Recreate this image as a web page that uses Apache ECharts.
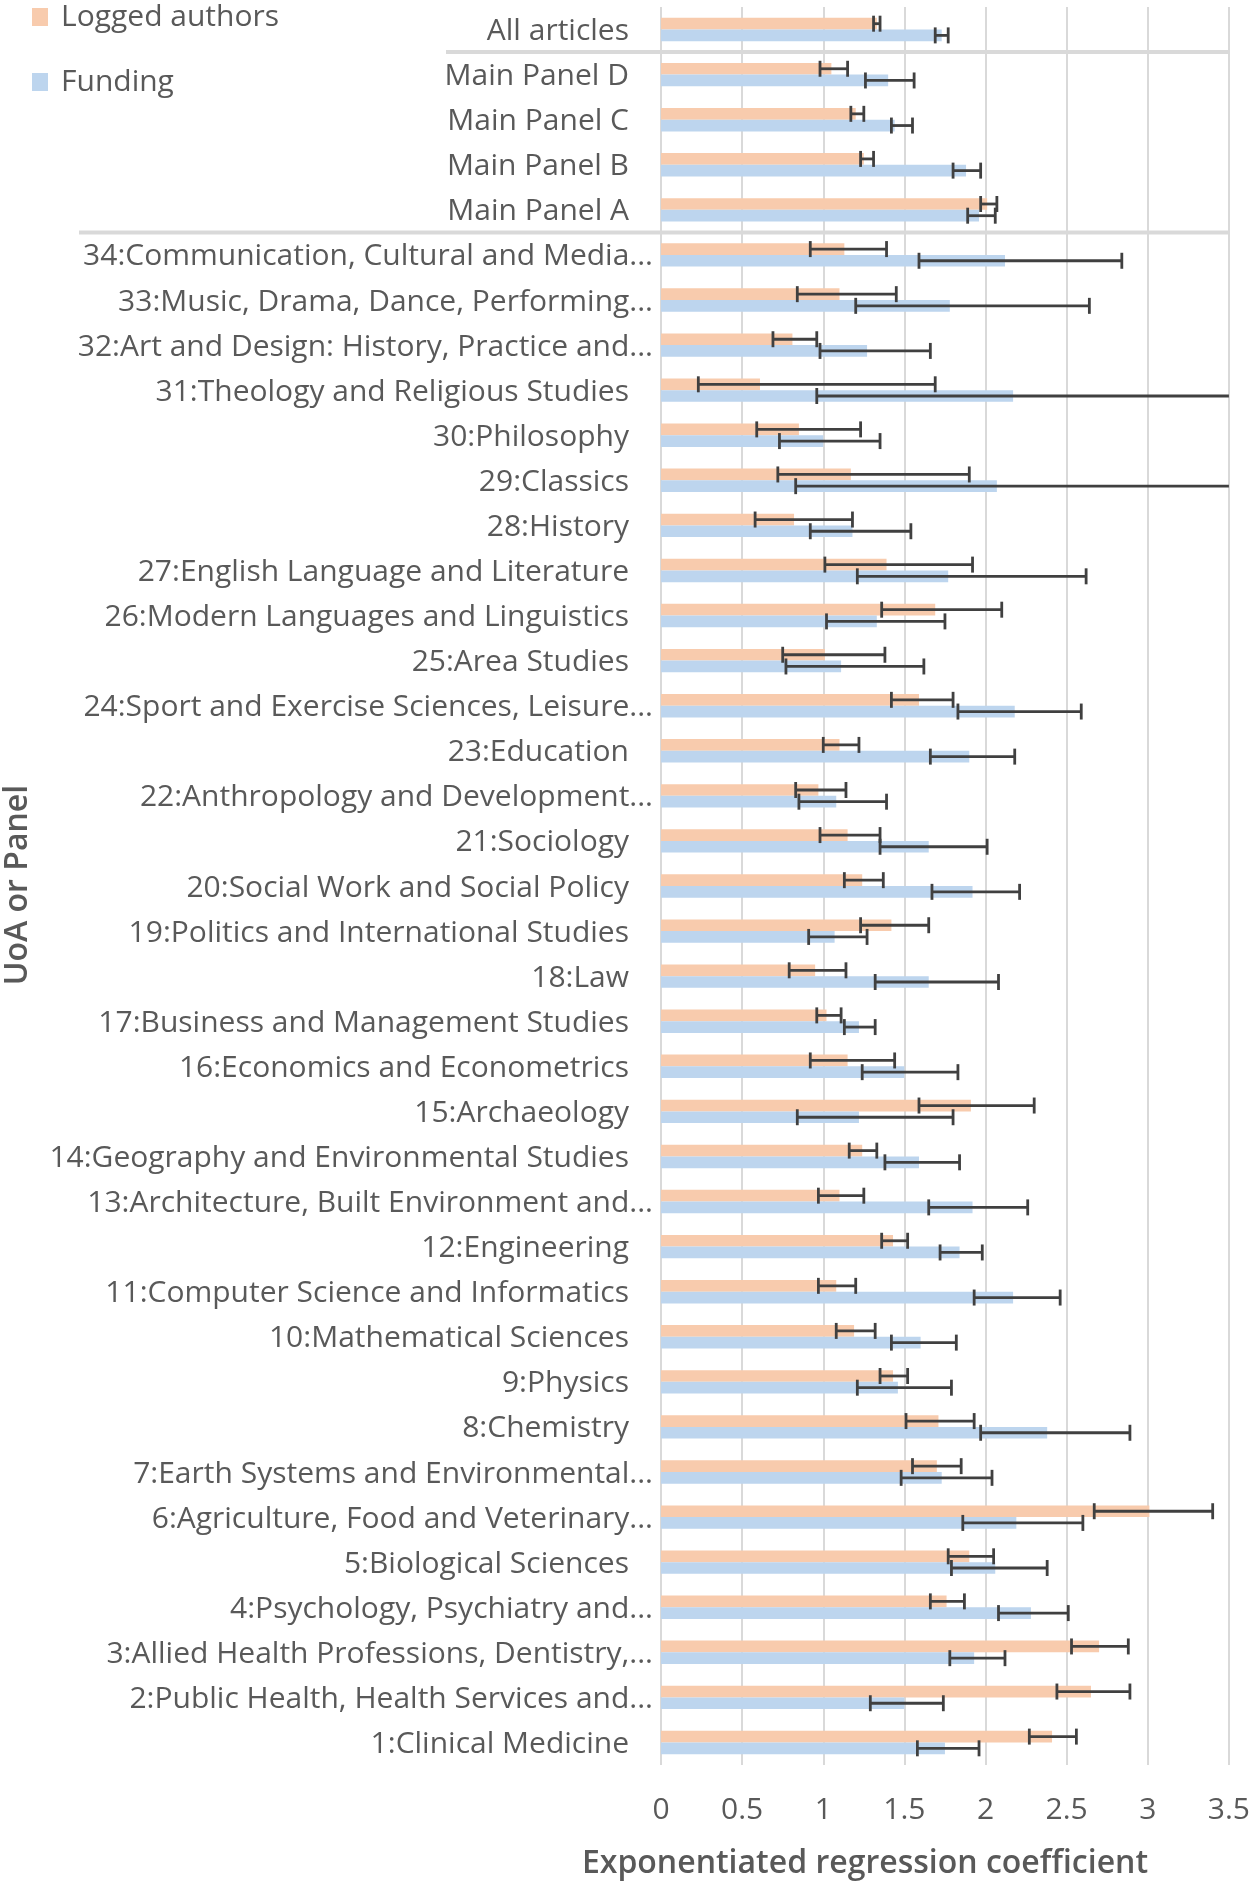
<!DOCTYPE html>
<html>
<head>
<meta charset="utf-8">
<script src="https://cdn.jsdelivr.net/npm/echarts@6/dist/echarts.min.js"></script>
<style>
html,body{margin:0;padding:0;background:#fff;}
#chart{width:1253px;height:1887px;}
</style>
</head>
<body>
<div id="chart"></div>
<script>
// Categories, top to bottom
const categories = [
  'All articles','Main Panel D','Main Panel C','Main Panel B','Main Panel A',
  '34:Communication, Cultural and Media...','33:Music, Drama, Dance, Performing...',
  '32:Art and Design: History, Practice and...','31:Theology and Religious Studies',
  '30:Philosophy','29:Classics','28:History','27:English Language and Literature',
  '26:Modern Languages and Linguistics','25:Area Studies',
  '24:Sport and Exercise Sciences, Leisure...','23:Education',
  '22:Anthropology and Development...','21:Sociology','20:Social Work and Social Policy',
  '19:Politics and International Studies','18:Law','17:Business and Management Studies',
  '16:Economics and Econometrics','15:Archaeology','14:Geography and Environmental Studies',
  '13:Architecture, Built Environment and...','12:Engineering',
  '11:Computer Science and Informatics','10:Mathematical Sciences','9:Physics','8:Chemistry',
  '7:Earth Systems and Environmental...','6:Agriculture, Food and Veterinary...',
  '5:Biological Sciences','4:Psychology, Psychiatry and...',
  '3:Allied Health Professions, Dentistry,...','2:Public Health, Health Services and...',
  '1:Clinical Medicine'
];

// Logged authors
const loggedVal  = [1.33,1.05,1.20,1.25,2.01, 1.13,1.10,0.81,0.61,0.85,1.17,0.82,1.39,1.69,1.01,1.59,1.10,0.97,1.15,1.24,1.42,0.95,1.02,1.15,1.91,1.24,1.10,1.43,1.08,1.19,1.43,1.71,1.70,3.01,1.90,1.76,2.70,2.65,2.41];
const loggedLow  = [1.31,0.98,1.17,1.23,1.97, 0.92,0.84,0.69,0.23,0.59,0.72,0.58,1.01,1.36,0.75,1.42,1.00,0.83,0.98,1.13,1.23,0.79,0.96,0.92,1.59,1.16,0.97,1.36,0.97,1.08,1.35,1.51,1.55,2.67,1.77,1.66,2.53,2.44,2.27];
const loggedHigh = [1.35,1.15,1.25,1.31,2.07, 1.39,1.45,0.96,1.69,1.23,1.90,1.18,1.92,2.10,1.38,1.80,1.22,1.14,1.35,1.37,1.65,1.14,1.11,1.44,2.30,1.33,1.25,1.52,1.20,1.32,1.52,1.93,1.85,3.40,2.05,1.87,2.88,2.89,2.56];

// Funding
const fundVal  = [1.73,1.40,1.44,1.88,1.96, 2.12,1.78,1.27,2.17,1.00,2.07,1.18,1.77,1.33,1.11,2.18,1.90,1.08,1.65,1.92,1.07,1.65,1.22,1.50,1.22,1.59,1.92,1.84,2.17,1.60,1.46,2.38,1.73,2.19,2.06,2.28,1.93,1.50,1.75];
const fundLow  = [1.69,1.26,1.42,1.80,1.89, 1.59,1.20,0.98,0.96,0.73,0.83,0.92,1.21,1.02,0.77,1.83,1.66,0.85,1.35,1.67,0.91,1.32,1.13,1.24,0.84,1.38,1.65,1.72,1.93,1.42,1.21,1.97,1.48,1.86,1.79,2.08,1.78,1.29,1.58];
const fundHigh = [1.77,1.56,1.55,1.97,2.06, 2.84,2.64,1.66,4.90,1.35,5.20,1.54,2.62,1.75,1.62,2.59,2.18,1.39,2.01,2.21,1.27,2.08,1.32,1.83,1.80,1.84,2.26,1.98,2.46,1.82,1.79,2.89,2.04,2.60,2.38,2.51,2.12,1.74,1.96];

const X_MIN = 0, X_MAX = 3.5, X_STEP = 0.5;
const BAR_W = 11.7;
const CAP = 16;
const TXT = '#595959';
const FONT = '"Open Sans", "Noto Sans", sans-serif';

function errorSeries(name, lows, highs, sign) {
  return {
    type: 'custom',
    name: name + ' CI',
    z: 10,
    silent: true,
    data: categories.map((c, i) => [lows[i], highs[i], i]),
    encode: { x: [0, 1], y: 2 },
    renderItem: function (params, api) {
      const lo = api.value(0), hi = api.value(1), idx = api.value(2);
      const p0 = api.coord([lo, idx]);
      const clipped = hi > X_MAX;
      const p1 = api.coord([Math.min(hi, X_MAX), idx]);
      const y = p0[1] + sign * BAR_W / 2;
      const st = { stroke: '#404040', lineWidth: 2.8 };
      const ch = [
        { type: 'line', shape: { x1: p0[0], y1: y, x2: p1[0], y2: y }, style: st },
        { type: 'line', shape: { x1: p0[0], y1: y - CAP / 2, x2: p0[0], y2: y + CAP / 2 }, style: st }
      ];
      if (!clipped) ch.push({ type: 'line', shape: { x1: p1[0], y1: y - CAP / 2, x2: p1[0], y2: y + CAP / 2 }, style: st });
      return { type: 'group', children: ch };
    }
  };
}

const chart = echarts.init(document.getElementById('chart'), null, { renderer: 'canvas' });
chart.setOption({
  animation: false,
  backgroundColor: '#ffffff',
  textStyle: { fontFamily: FONT },
  legend: {
    orient: 'vertical',
    left: 32, top: 2,
    padding: 0,
    itemWidth: 16, itemHeight: 18,
    itemGap: 35,
    icon: 'rect',
    data: ['Logged authors', 'Funding'],
    textStyle: { fontSize: 30, color: TXT, fontFamily: FONT, padding: [0, 0, 0, 8] }
  },
  grid: { left: 661, top: 7, width: 568, height: 1758, containLabel: false },
  xAxis: {
    type: 'value', min: X_MIN, max: X_MAX, interval: X_STEP,
    axisLine: { show: false }, axisTick: { show: false },
    splitLine: { show: true, lineStyle: { color: '#d9d9d9', width: 2 } },
    axisLabel: { fontSize: 30, color: TXT, fontFamily: FONT, margin: 30 }
  },
  yAxis: {
    type: 'category', inverse: true, data: categories,
    axisLine: { show: false }, axisTick: { show: false }, splitLine: { show: false },
    axisLabel: {
      interval: 0, margin: 8, color: TXT, fontSize: 30, fontFamily: FONT,
      formatter: v => v.endsWith('...') ? '{t|' + v + '}' : '{n|' + v + '}',
      rich: {
        t: { fontSize: 30, color: TXT, fontFamily: FONT, padding: [4, 0, 0, 0] },
        n: { fontSize: 30, color: TXT, fontFamily: FONT, padding: [4, 24, 0, 0] }
      }
    }
  },
  series: [
    { type: 'bar', name: 'Logged authors', data: loggedVal, barWidth: BAR_W, barGap: '0%',
      itemStyle: { color: '#F8CBAD' }, silent: true },
    { type: 'bar', name: 'Funding', data: fundVal, barWidth: BAR_W, barGap: '0%',
      itemStyle: { color: '#BDD5EE' }, silent: true },
    errorSeries('Logged authors', loggedLow, loggedHigh, -1),
    errorSeries('Funding', fundLow, fundHigh, 1)
  ]
});

// separators between groups, placed from the axis scale
const yc = i => chart.convertToPixel({ yAxisIndex: 0 }, categories[i]);
const xRight = chart.convertToPixel({ xAxisIndex: 0 }, X_MAX);
const sep1 = (yc(0) + yc(1)) / 2;
const sep2 = (yc(4) + yc(5)) / 2;
chart.setOption({
  graphic: [
    { type: 'line', shape: { x1: 446, y1: sep1, x2: xRight + 1, y2: sep1 }, style: { stroke: '#d9d9d9', lineWidth: 4 }, z: 1 },
    { type: 'line', shape: { x1: 79, y1: sep2, x2: xRight + 1, y2: sep2 }, style: { stroke: '#d9d9d9', lineWidth: 4 }, z: 1 },
    { type: 'text', x: 865, y: 1864, style: { text: 'Exponentiated regression coefficient', fontSize: 32, fontWeight: 600, fill: TXT, fontFamily: FONT, align: 'center', verticalAlign: 'middle' } },
    { type: 'text', x: 18, y: 885, rotation: Math.PI / 2, style: { text: 'UoA or Panel', fontSize: 32, fontWeight: 600, fill: TXT, fontFamily: FONT, align: 'center', verticalAlign: 'middle' } }
  ]
});
</script>
</body>
</html>
